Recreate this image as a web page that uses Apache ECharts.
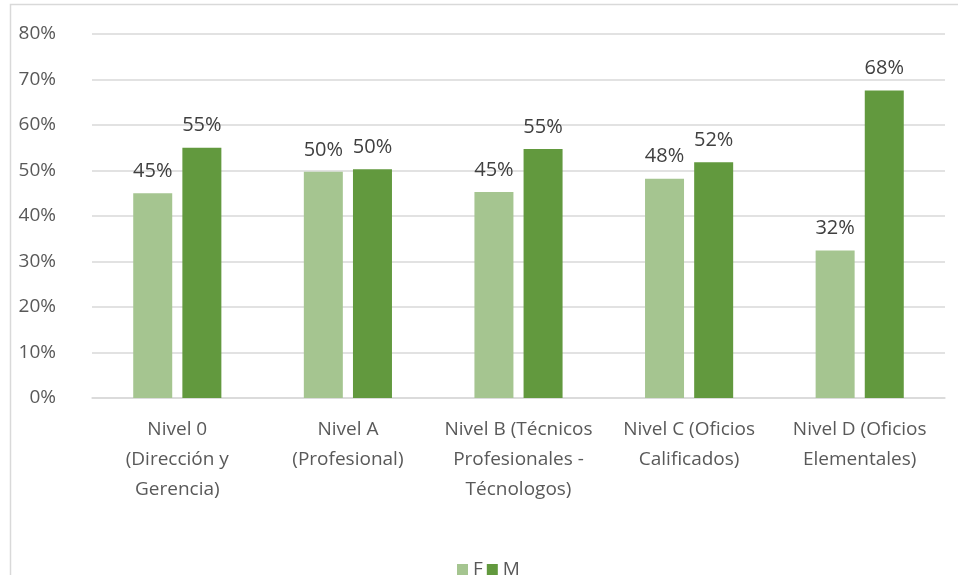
<!DOCTYPE html>
<html>
<head>
<meta charset="utf-8">
<script src="https://cdn.jsdelivr.net/npm/echarts@6/dist/echarts.min.js"></script>
<style>
html,body{margin:0;padding:0;background:#fff;}
#c{width:958px;height:575px;}
</style>
</head>
<body>
<div id="c"></div>
<script>
var categories = [
  "Nivel 0\n(Dirección y\nGerencia)",
  "Nivel A\n(Profesional)",
  "Nivel B (Técnicos\nProfesionales -\nTécnologos)",
  "Nivel C (Oficios\nCalificados)",
  "Nivel D (Oficios\nElementales)"
];
var seriesF = [45.0, 49.7, 45.3, 48.2, 32.4];
var seriesM = [55.0, 50.3, 54.7, 51.8, 67.6];
var yTicks = { min: 0, max: 80, interval: 10 };

var font = "'Open Sans', sans-serif";
var chart = echarts.init(document.getElementById('c'));
function lbl() {
  return {
    show: true, position: 'top', distance: 12,
    color: '#404040', fontSize: 20, fontFamily: font,
    formatter: function (p) { return Math.round(p.value) + '%'; }
  };
}
chart.setOption({
  animation: false,
  backgroundColor: '#fff',
  graphic: [{
    type: 'rect', silent: true,
    shape: { x: 10.5, y: 4.5, width: 1000, height: 1000 },
    style: { fill: 'none', stroke: '#d9d9d9', lineWidth: 1.5 }
  }],
  grid: { left: 92, right: 13, top: 34, bottom: 177, containLabel: false },
  legend: {
    top: 555, left: 452,
    itemWidth: 11, itemHeight: 11, itemGap: 4,
    icon: 'rect',
    textStyle: { color: '#595959', fontSize: 19, fontFamily: font, padding: [0, 0, 0, 0] },
    data: ['F', 'M']
  },
  xAxis: {
    type: 'category', data: categories,
    axisLine: { lineStyle: { color: '#d9d9d9', width: 1.5 } },
    axisTick: { show: false },
    axisLabel: { color: '#595959', fontSize: 19, fontFamily: font, lineHeight: 30, margin: 17, interval: 0 }
  },
  yAxis: {
    type: 'value', min: yTicks.min, max: yTicks.max, interval: yTicks.interval,
    axisLine: { show: false }, axisTick: { show: false },
    splitLine: { lineStyle: { color: '#d9d9d9', width: 1.5 } },
    axisLabel: { color: '#595959', fontSize: 19, fontFamily: font, margin: 36, formatter: '{value}%' }
  },
  series: [
    { name: 'F', type: 'bar', data: seriesF, barWidth: 39, barGap: '26%',
      itemStyle: { color: '#a5c590' }, label: lbl() },
    { name: 'M', type: 'bar', data: seriesM, barWidth: 39,
      itemStyle: { color: '#62993e' }, label: lbl() }
  ]
});
</script>
</body>
</html>
